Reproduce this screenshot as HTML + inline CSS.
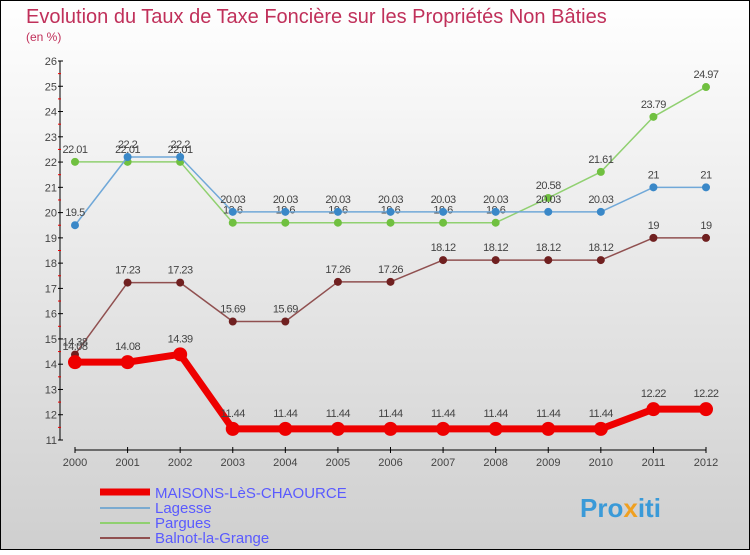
<!DOCTYPE html>
<html><head><meta charset="utf-8"><style>
body{margin:0}
#c{width:750px;height:550px;position:relative;font-family:"Liberation Sans",sans-serif;}
svg text{font-family:"Liberation Sans",sans-serif;}
</style></head><body>
<div id="c">
<svg id="s" width="750" height="550">
<defs><linearGradient id="bg" x1="0" y1="0" x2="0" y2="1"><stop offset="0" stop-color="#ffffff"/><stop offset="1" stop-color="#cfcfcf"/></linearGradient></defs>
<rect x="0.5" y="0.5" width="749" height="549" fill="url(#bg)" stroke="#000"/>
<text x="26" y="23" font-size="20" fill="#c0305a">Evolution du Taux de Taxe Foncière sur les Propriétés Non Bâties</text>
<text x="26" y="41" font-size="12" fill="#c0305a">(en %)</text>
<g id="axes"></g><g id="series"></g>
<g>
<line x1="100" y1="492" x2="150" y2="492" stroke="#e00" stroke-width="7"/>
<text x="155" y="498" font-size="15" fill="#5a5aff">MAISONS-LèS-CHAOURCE</text>
<line x1="100" y1="508" x2="150" y2="508" stroke="#7aaad0" stroke-width="2"/>
<text x="155" y="513" font-size="15" fill="#5a5aff">Lagesse</text>
<line x1="100" y1="523" x2="150" y2="523" stroke="#90d070" stroke-width="2"/>
<text x="155" y="528" font-size="15" fill="#5a5aff">Pargues</text>
<line x1="100" y1="538" x2="150" y2="538" stroke="#905050" stroke-width="2"/>
<text x="155" y="543" font-size="15" fill="#5a5aff">Balnot-la-Grange</text>
</g>
<text x="580" y="517" font-size="26" font-weight="bold" fill="#3a9ad8">Pro<tspan fill="#f0a020">x</tspan>iti</text>
</svg></div>
<script>
const years=[2000,2001,2002,2003,2004,2005,2006,2007,2008,2009,2010,2011,2012];
const maisons=[14.08,14.08,14.39,11.44,11.44,11.44,11.44,11.44,11.44,11.44,11.44,12.22,12.22];
const lagesse=[19.5,22.2,22.2,20.03,20.03,20.03,20.03,20.03,20.03,20.03,20.03,21,21];
const pargues=[22.01,22.01,22.01,19.6,19.6,19.6,19.6,19.6,19.6,20.58,21.61,23.79,24.97];
const balnot=[14.38,17.23,17.23,15.69,15.69,17.26,17.26,18.12,18.12,18.12,18.12,19,19];
const yTicks=[11,12,13,14,15,16,17,18,19,20,21,22,23,24,25,26];
const NS="http://www.w3.org/2000/svg";
const X=i=>75+i*(706-75)/12;
const Y=v=>440-(v-11)*(440-61)/15;
function mk(tag,at,par){const e=document.createElementNS(NS,tag);for(const k in at)e.setAttribute(k,at[k]);par.appendChild(e);return e;}
const ax=document.getElementById('axes');
mk('line',{x1:60,y1:61,x2:60,y2:440,stroke:'#000','stroke-width':1},ax);
mk('line',{x1:75,y1:450,x2:706,y2:450,stroke:'#000','stroke-width':1},ax);
yTicks.forEach(t=>{const y=Y(t);
 mk('line',{x1:58,y1:y,x2:63,y2:y,stroke:'#000'},ax);
 if(t<26){const m=mk('line',{x1:58,y1:Y(t+0.5),x2:61,y2:Y(t+0.5),stroke:'#e00'},ax);}
 const tx=mk('text',{x:57,y:y+4,'font-size':11,fill:'#444','text-anchor':'end'},ax);tx.textContent=t;
 });
years.forEach((yr,i)=>{mk('line',{x1:X(i),y1:447,x2:X(i),y2:453,stroke:'#000'},ax);
 const tx=mk('text',{x:X(i),y:466,'font-size':11,fill:'#444','text-anchor':'middle'},ax);tx.textContent=yr;
 });
const sg=document.getElementById('series');
function fmt(v){return String(v);}
function series(vals,color,dot,w,r,name){
 const g=mk('g',{},sg);
 const pl=mk('polyline',{points:vals.map((v,i)=>X(i)+','+Y(v)).join(' '),fill:'none',stroke:color,'stroke-width':w,'stroke-linejoin':'round'},g);
 
 vals.forEach((v,i)=>{const c=mk('circle',{cx:X(i),cy:Y(v),r:r,fill:dot},g);
  
  const t=mk('text',{x:X(i),y:Y(v)-r-5,'font-size':11,fill:'#444','text-anchor':'middle','letter-spacing':'-0.5'},g);t.textContent=fmt(v);
  });
}
series(pargues,'#90d070','#70c040',1.5,4,'pargues');
series(lagesse,'#70a8d8','#3a88c8',1.5,4,'lagesse');
series(balnot,'#905050','#702020',1.5,4,'balnot');
series(maisons,'#e00','#e00',7,7,'maisons');
</script>
</body></html>
